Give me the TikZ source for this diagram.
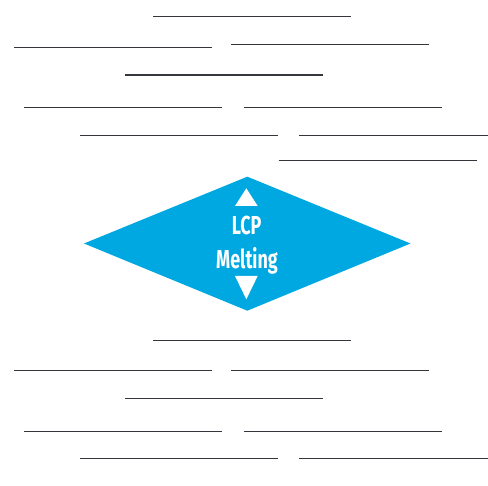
\documentclass[tikz,border=0pt]{standalone}
\usepackage{fontspec}
\newfontfamily\lcpfont[FakeStretch=0.69]{Fira Sans}
\definecolor{lcpblue}{RGB}{0,168,225}
\definecolor{rulegrey}{RGB}{51,54,58}
\tikzset{
  textrule/.style={draw=rulegrey, line width=1.4pt},
  lcplabel/.style={text=white, font=\lcpfont\bfseries\fontsize{26}{33.3}\selectfont, align=center, inner sep=0pt}
}
\begin{document}
\begin{tikzpicture}[x=1pt,y=-1pt]
\useasboundingbox (0,0) rectangle (488,486);
% top placeholder lines
\draw[textrule] (153,16.7) -- (350.7,16.7);
\draw[textrule] (14.3,47.3) -- (212.3,47.3);
\draw[textrule] (231,44.3) -- (428.7,44.3);
\draw[textrule] (125,75) -- (323,75);
\draw[textrule] (24.3,107.7) -- (222.3,107.7);
\draw[textrule] (243.7,107.7) -- (441.7,107.7);
\draw[textrule] (80,135.3) -- (277.7,135.3);
\draw[textrule] (299,135.3) -- (488,135.3);
\draw[textrule] (278.7,160.7) -- (476.7,160.7);
% diamond
\coordinate (dt) at (247.3,176.7);
\coordinate (dl) at (84,243.5);
\coordinate (dr) at (410.5,243.5);
\coordinate (db) at (247.3,310.7);
\fill[lcpblue] (dt) -- (dr) -- (db) -- (dl) -- cycle;
% arrows
\fill[white] (246.3,188.3) -- (257.7,206) -- (235,206) -- cycle;
\fill[white] (235,276) -- (257.7,276) -- (246.3,299.3) -- cycle;
\node[lcplabel, anchor=base] (lcp) at (246.7,235) {LCP};
\node[lcplabel, anchor=base] (melt) at (247,268.3) {Melting};
% bottom placeholder lines
\draw[textrule] (153,340.7) -- (350.7,340.7);
\draw[textrule] (14.3,370.7) -- (212.3,370.7);
\draw[textrule] (231,370.7) -- (428.7,370.7);
\draw[textrule] (125,398.7) -- (323,398.7);
\draw[textrule] (24.3,431.3) -- (222.3,431.3);
\draw[textrule] (243.7,431.3) -- (441.7,431.3);
\draw[textrule] (80,458.7) -- (277.7,458.7);
\draw[textrule] (299,458.7) -- (488,458.7);
\end{tikzpicture}
\end{document}
